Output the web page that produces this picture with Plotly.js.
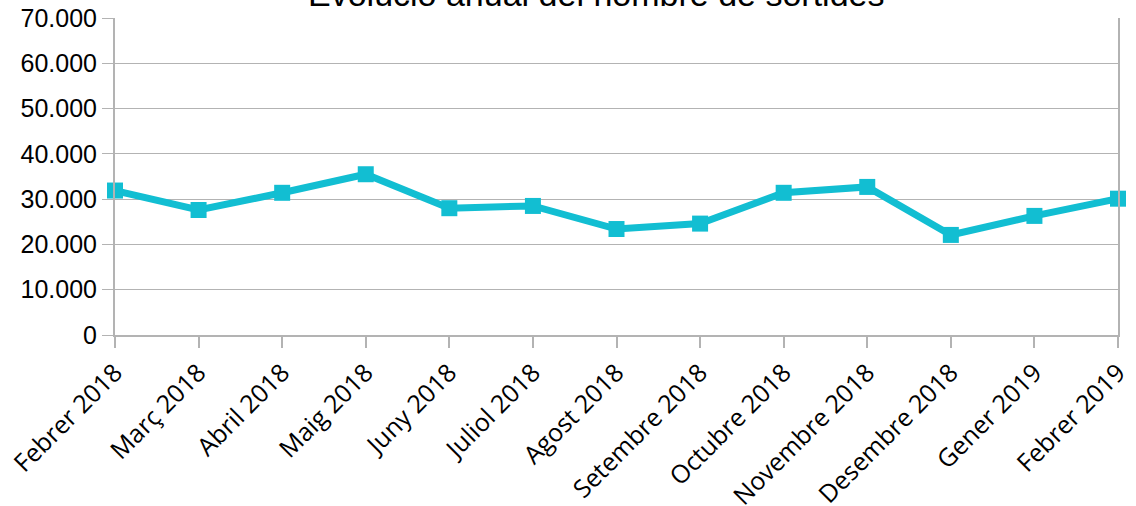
<!DOCTYPE html>
<html>
<head>
<meta charset="utf-8">
<script src="https://cdn.plot.ly/plotly-3.0.1.min.js"></script>
<style>html,body{margin:0;padding:0;background:#fff;}#chart{width:1136px;height:506px;}</style>
</head>
<body>
<div id="chart"></div>
<script>
const titleText = "Evolució anual del nombre de sortides";
const months = ["Febrer 2018","Març 2018","Abril 2018","Maig 2018","Juny 2018","Juliol 2018","Agost 2018","Setembre 2018","Octubre 2018","Novembre 2018","Desembre 2018","Gener 2019","Febrer 2019"];
const sortides = [31900, 27600, 31400, 35500, 28000, 28500, 23400, 24600, 31400, 32700, 22100, 26300, 30100];
const yTicks = [0, 10000, 20000, 30000, 40000, 50000, 60000, 70000];

const trace = {
  x: months.map((m, i) => i),
  y: sortides,
  type: 'scatter',
  mode: 'lines+markers',
  line: {color: '#12bed2', width: 7},
  marker: {symbol: 'square', size: 16, color: '#12bed2'},
  cliponaxis: false,
  hoverinfo: 'skip'
};

const layout = {
  width: 1136, height: 506,
  margin: {l: 115, r: 18, t: 18, b: 171},
  paper_bgcolor: '#fff', plot_bgcolor: '#fff',
  separators: ',.',
  showlegend: false,
  xaxis: {
    range: [0, months.length - 1],
    tickmode: 'array',
    tickvals: months.map((m, i) => i),
    ticktext: months,
    tickangle: -45,
    ticks: 'outside', ticklen: 11, tickcolor: '#b3b3b3', tickwidth: 2,
    showgrid: false, zeroline: false,
    showline: true, linecolor: '#b3b3b3', linewidth: 2,
    tickfont: {family: 'Open Sans', size: 25, color: '#000'}
  },
  yaxis: {
    range: [0, 70000],
    tickmode: 'array',
    tickvals: yTicks,
    tickformat: ',d',
    ticks: 'outside', ticklen: 11, tickcolor: '#b3b3b3', tickwidth: 1,
    showgrid: true, gridcolor: '#b3b3b3', gridwidth: 1,
    zeroline: false,
    showline: true, linecolor: '#b3b3b3', linewidth: 2, mirror: true,
    tickfont: {family: 'Liberation Sans', size: 25, color: '#000'}
  },
  annotations: [{
    text: titleText,
    xref: 'paper', yref: 'paper',
    x: (596 - 115) / 1003, y: (335 + 6) / 317,
    xanchor: 'center', yanchor: 'middle',
    showarrow: false,
    font: {family: 'Liberation Sans', size: 34, color: '#000'}
  }]
};

Plotly.newPlot('chart', [trace], layout, {staticPlot: true, displayModeBar: false});
</script>
</body>
</html>
